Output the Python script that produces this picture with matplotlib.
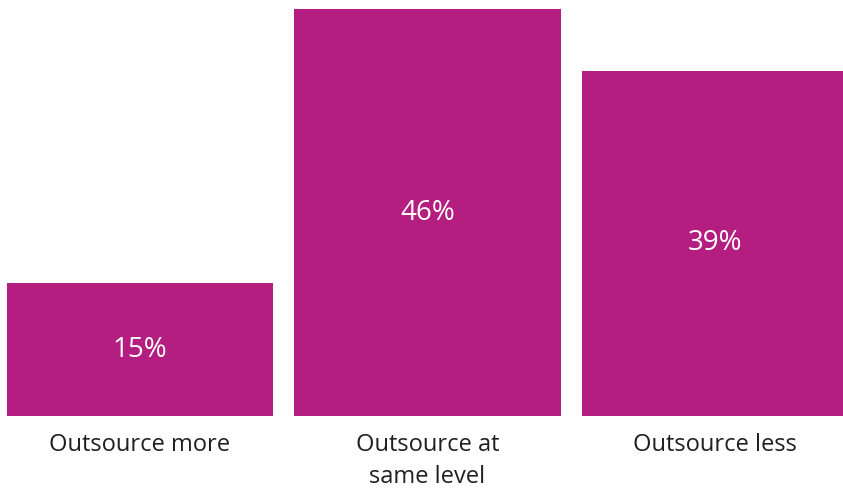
import matplotlib
matplotlib.use("Agg")
import matplotlib.pyplot as plt

categories = ["Outsource more", "Outsource at\nsame level", "Outsource less"]
values = [15, 46, 39]
value_labels = ["15%", "46%", "39%"]

bar_color = "#B41E80"
text_color = "#231F20"

plt.rcParams['font.family'] = ['Open Sans', 'DejaVu Sans']

fig = plt.figure(figsize=(8.43, 4.88), dpi=100)
ax = fig.add_axes([0, (488 - 416) / 488, 1, 416 / 488])

x = list(range(len(categories)))
bars = ax.bar(x, values, width=0.927, color=bar_color, linewidth=0)

for xi, v, lab in zip(x, values, value_labels):
    ax.text(xi, v / 2, lab, ha="center", va="center", color="white",
            fontsize=20)

ppu = 287.5
ax.set_xlim(-140 / ppu, (843 - 140) / ppu)
ax.set_ylim(0, 416 / (407 / 46))

ax.set_xticks(x)
ax.set_xticklabels(categories, fontsize=17, color=text_color, linespacing=1.45)
ax.tick_params(axis="x", length=0, pad=12)
ax.set_yticks([])
for s in ax.spines.values():
    s.set_visible(False)

fig.savefig("out.png", dpi=100)
